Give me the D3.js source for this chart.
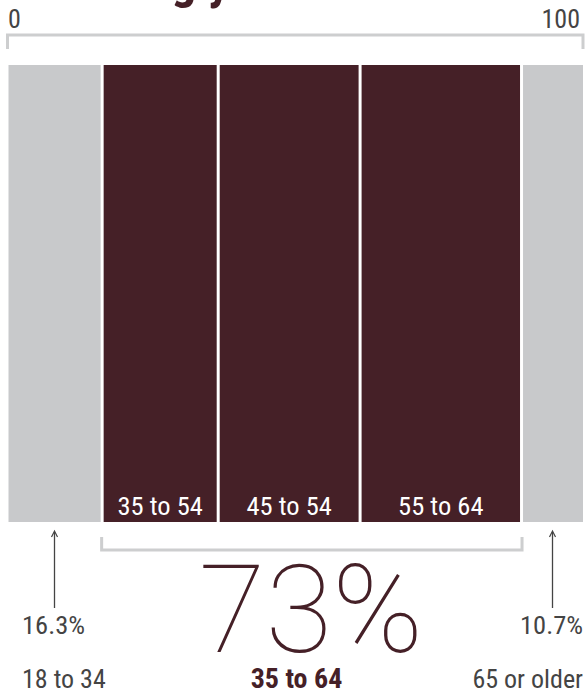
<!DOCTYPE html>
<html>
<head>
<meta charset="utf-8">
<script src="https://cdn.jsdelivr.net/npm/d3@7"></script>
<style>
  html, body { margin: 0; padding: 0; background: #fff; }
  svg { display: block; }
  .cond { font-family: "Liberation Sans Narrow", "Roboto Condensed", "Liberation Sans", sans-serif; }
</style>
</head>
<body>
<svg id="chart" width="587" height="694"></svg>
<script>
// ---- data ----
const titleText = "The earning years";
const segments = ["18 to 34", "35 to 54", "45 to 54", "55 to 64", "65 or older"];
const shares = [16.3, 20.2, 24.7, 28.1, 10.7];
const highlighted = [false, true, true, true, false];
const axisTicks = [0, 100];
const groupLabel = "35 to 64";
const groupShare = "73%";

// ---- layout ----
const W = 587, H = 694;
const maroon = "#452027", grey = "#c8c9cb", bracket = "#cdcecf", textGrey = "#444444";
const svg = d3.select("#chart");

const x = d3.scaleLinear().domain([0, 100]).range([8.5, 583]);
const barTop = 65, barBottom = 522, gap = 1.5;

let acc = 0;
const rows = segments.map((s, i) => {
  const r = { label: s, value: shares[i], start: acc, end: acc + shares[i], hi: highlighted[i] };
  acc += shares[i];
  return r;
});

// title (clipped at top, only descenders visible)
const title = svg.append("text")
  .attr("class", "cond")
  .attr("y", 0)
  .attr("font-size", 50)
  .attr("font-weight", "bold")
  .attr("fill", maroon)
  .text(titleText);
const gIdx = titleText.indexOf("g");
const off = title.node().getSubStringLength(0, gIdx);
title.attr("x", 171 - off);
// put the baseline so that descenders end near y = 9
const tb = title.node().getBBox();
const descent = tb.y + tb.height; // below baseline (baseline at 0)
title.attr("y", 9 - Math.min(descent, 11));

// top axis labels
svg.selectAll("text.tick").data(axisTicks).enter().append("text")
  .attr("class", "tick cond")
  .attr("x", d => d === 0 ? x(d) - 0.5 : x(d) - 3)
  .attr("y", 28)
  .attr("text-anchor", d => d === 0 ? "start" : "end")
  .attr("font-size", 26)
  .attr("fill", textGrey)
  .text(d => d);

// top bracket
svg.append("path")
  .attr("d", `M${x(0) - 1},49 V35 H${x(100)} V49`)
  .attr("fill", "none")
  .attr("stroke", bracket)
  .attr("stroke-width", 3);

// bars
svg.selectAll("rect.bar").data(rows).enter().append("rect")
  .attr("class", "bar")
  .attr("x", d => x(d.start) + (d.start === 0 ? 0 : gap))
  .attr("width", d => x(d.end) - x(d.start) - (d.start === 0 ? 0 : gap) - (d.end >= 99.99 ? 0 : gap))
  .attr("y", barTop)
  .attr("height", barBottom - barTop)
  .attr("fill", d => d.hi ? maroon : grey);

// labels inside highlighted bars
svg.selectAll("text.inbar").data(rows.filter(d => d.hi)).enter().append("text")
  .attr("class", "inbar cond")
  .attr("x", d => (x(d.start) + x(d.end)) / 2)
  .attr("y", 515)
  .attr("text-anchor", "middle")
  .attr("font-size", 26.5)
  .attr("fill", "#ffffff")
  .text(d => d.label);

// bottom bracket around highlighted group
const hiRows = rows.filter(d => d.hi);
const gStart = d3.min(hiRows, d => d.start), gEnd = d3.max(hiRows, d => d.end);
svg.append("path")
  .attr("d", `M${x(gStart) - 0.5},537 V550 H${x(gEnd) + 0.5} V537`)
  .attr("fill", "none")
  .attr("stroke", bracket)
  .attr("stroke-width", 3);

// arrows and labels for the outer groups
const outer = rows.filter(d => !d.hi);
const arrowX = [54.5, 552.5];
outer.forEach((d, i) => {
  svg.append("line")
    .attr("x1", arrowX[i]).attr("x2", arrowX[i])
    .attr("y1", 532).attr("y2", 608)
    .attr("stroke", "#444").attr("stroke-width", 1.3);
  svg.append("path")
    .attr("d", `M${arrowX[i] - 3},537 L${arrowX[i]},531 L${arrowX[i] + 3},537`)
    .attr("fill", "none").attr("stroke", "#444").attr("stroke-width", 1.2);
  const left = i === 0;
  svg.append("text")
    .attr("class", "cond")
    .attr("x", left ? 22 : 583)
    .attr("y", 634)
    .attr("text-anchor", left ? "start" : "end")
    .attr("font-size", 26.5)
    .attr("fill", textGrey)
    .text(d3.format(".1f")(d.value) + "%");
  svg.append("text")
    .attr("class", "cond")
    .attr("x", left ? 22 : 583)
    .attr("y", 688)
    .attr("text-anchor", left ? "start" : "end")
    .attr("font-size", 26)
    .attr("fill", textGrey)
    .text(d.label);
});

// big group share
svg.append("text")
  .attr("x", 311)
  .attr("y", 652)
  .attr("text-anchor", "middle")
  .attr("font-family", "Roboto, 'Open Sans', sans-serif")
  .attr("font-weight", 100)
  .attr("font-size", 122)
  .attr("fill", maroon)
  .text(groupShare);

svg.append("text")
  .attr("class", "cond")
  .attr("x", 296.5)
  .attr("y", 688)
  .attr("text-anchor", "middle")
  .attr("font-size", 28)
  .attr("font-weight", "bold")
  .attr("fill", maroon)
  .text(groupLabel);
</script>
</body>
</html>
